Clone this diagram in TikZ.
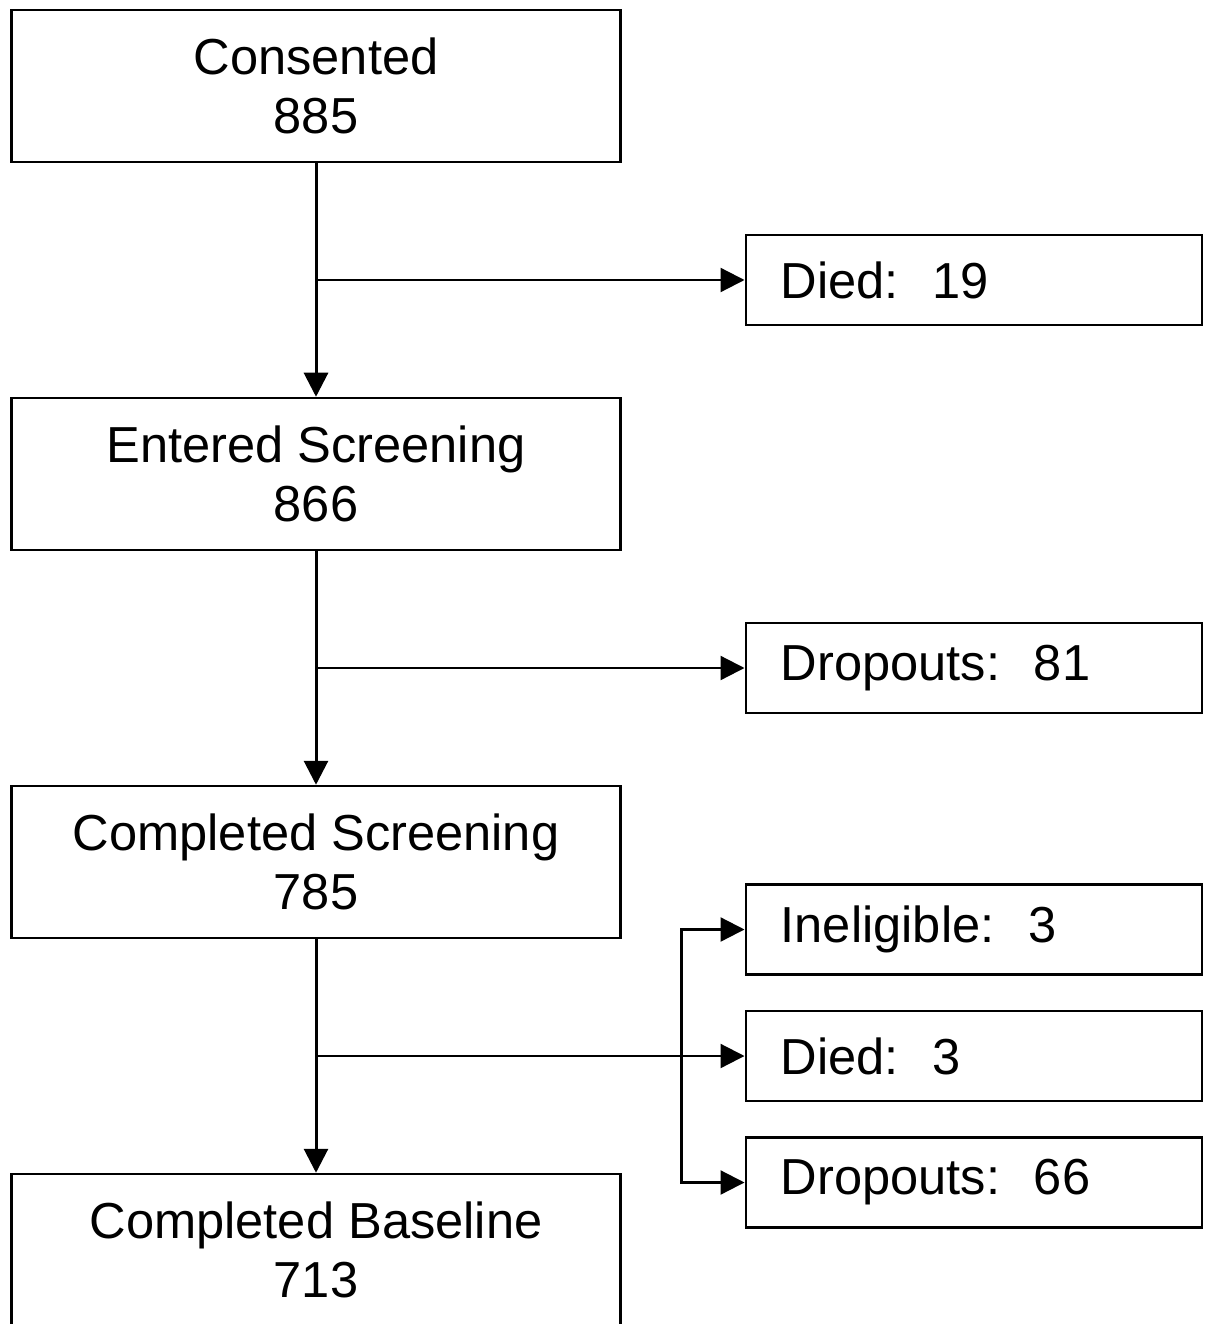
\documentclass[tikz,border=0pt]{standalone}
\usepackage{fontspec}
\setmainfont{Liberation Sans}
\usetikzlibrary{positioning, arrows.meta, calc}

\begin{document}
\begin{tikzpicture}[
            stage/.style={rectangle, draw, line width=0.05cm, minimum width=12.18cm, minimum height=3.04cm, align=center, font=\fontsize{28.8}{34}\selectfont},
            outbox/.style={rectangle, draw, line width=0.05cm, minimum height=1.8cm, text width=7.72cm, inner xsep=0.7cm, align=left, font=\fontsize{28.8}{34}\selectfont},
            mainarrow/.style={-{Triangle[length=0.48cm, width=0.48cm]}, line width=0.06cm},
            sidearrow/.style={-{Triangle[length=0.48cm, width=0.48cm]}, line width=0.045cm},
            node distance=4.67cm
        ]
        \useasboundingbox (0,0) rectangle (24.08,-26.48);
        % Main stages
        \node[stage] (consented) at (6.32,-1.72) {Consented\\885};
        \node[stage, below=of consented] (entered) {Entered Screening\\866};
        \node[stage, below=of entered] (screened) {Completed Screening\\785};
        \node[stage, below=of screened] (baseline) {Completed Baseline\\713};
        % Branch points
        \coordinate (b1) at ($(consented.south)!0.5!(entered.north)$);
        \coordinate (b2) at ($(entered.south)!0.5!(screened.north)$);
        \coordinate (b3) at ($(screened.south)!0.5!(baseline.north)$);
        % Losses
        \node[outbox, right=8.57cm of b1] (died1) {Died:~~19};
        \node[outbox, right=8.57cm of b2] (drop1) {Dropouts:~~81};
        \node[outbox, right=8.57cm of b3] (died2) {Died:~~3};
        \node[outbox, above=0.68cm of died2] (inelig) {Ineligible:~~3};
        \node[outbox, below=0.68cm of died2] (drop2) {Dropouts:~~66};
        % Bracket ends
        \coordinate[left=1.26cm of inelig.west] (k1);
        \coordinate[left=1.26cm of drop2.west] (k2);
        % Arrows
        \draw[mainarrow] (consented) -- (entered);
        \draw[mainarrow] (entered) -- (screened);
        \draw[mainarrow] (screened) -- (baseline);
        \draw[sidearrow] (b1) -- (died1);
        \draw[sidearrow] (b2) -- (drop1);
        \draw[sidearrow] (b3) -- (died2);
        \draw[sidearrow] (k2) -- (k1) -- (inelig.west);
        \draw[sidearrow] (k1) -- (k2) -- (drop2.west);
    \end{tikzpicture}
\end{document}
